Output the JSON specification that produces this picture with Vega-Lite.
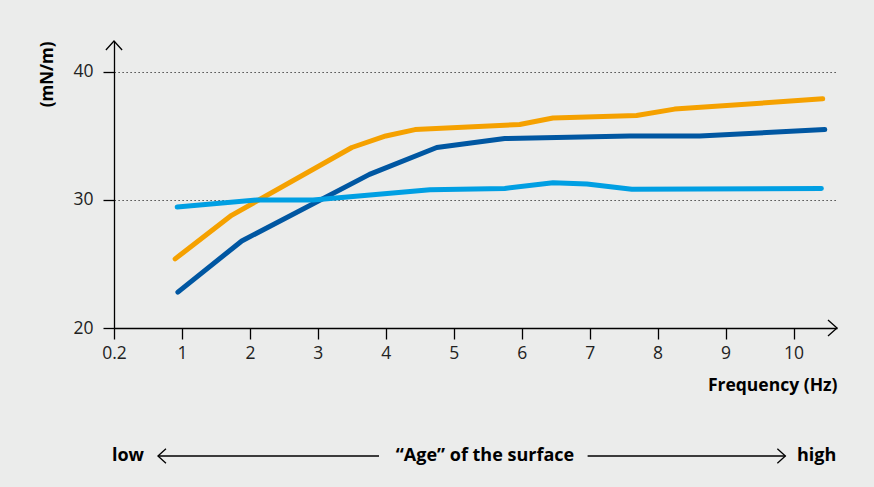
{
  "$schema": "https://vega.github.io/schema/vega-lite/v6.json",
  "autosize": "none",
  "width": 723,
  "height": 287,
  "padding": {"left": 114, "top": 41, "right": 37, "bottom": 159},
  "background": "#EBECEB",
  "config": {
    "view": {"stroke": null},
    "font": "Open Sans",
    "axis": {"labelFont": "Open Sans", "titleFont": "Open Sans"}
  },
  "datasets": {
    "series": [
      {"f": 0.9, "v": 25.4, "s": "A"},
      {"f": 1.73, "v": 28.8, "s": "A"},
      {"f": 3.5, "v": 34.1, "s": "A"},
      {"f": 4.0, "v": 35.0, "s": "A"},
      {"f": 4.43, "v": 35.5, "s": "A"},
      {"f": 5.97, "v": 35.9, "s": "A"},
      {"f": 6.46, "v": 36.4, "s": "A"},
      {"f": 7.69, "v": 36.6, "s": "A"},
      {"f": 8.25, "v": 37.1, "s": "A"},
      {"f": 10.43, "v": 37.9, "s": "A"},
      {"f": 0.94, "v": 22.8, "s": "B"},
      {"f": 1.88, "v": 26.8, "s": "B"},
      {"f": 3.76, "v": 32.0, "s": "B"},
      {"f": 4.75, "v": 34.1, "s": "B"},
      {"f": 5.75, "v": 34.8, "s": "B"},
      {"f": 7.59, "v": 35.0, "s": "B"},
      {"f": 8.62, "v": 35.0, "s": "B"},
      {"f": 10.46, "v": 35.5, "s": "B"},
      {"f": 0.93, "v": 29.45, "s": "C"},
      {"f": 2.1, "v": 30.0, "s": "C"},
      {"f": 2.93, "v": 30.0, "s": "C"},
      {"f": 4.65, "v": 30.8, "s": "C"},
      {"f": 5.75, "v": 30.9, "s": "C"},
      {"f": 6.46, "v": 31.35, "s": "C"},
      {"f": 6.96, "v": 31.25, "s": "C"},
      {"f": 7.62, "v": 30.84, "s": "C"},
      {"f": 10.41, "v": 30.9, "s": "C"}
    ],
    "arrowheads": [
      {"f": 0, "v": 42.42, "dir": "up"},
      {"f": 10.64, "v": 20, "dir": "right"},
      {"f": 0.647, "v": 10, "dir": "left"},
      {"f": 9.88, "v": 10, "dir": "right2"}
    ],
    "shafts": [
      {"f": 0.647, "f2": 3.9, "v": 10},
      {"f": 6.97, "f2": 9.88, "v": 10}
    ],
    "labels": [
      {"f": 0.206, "v": 10, "label": "low"},
      {"f": 5.46, "v": 10, "label": "“Age” of the surface"},
      {"f": 10.34, "v": 10, "label": "high"}
    ]
  },
  "encoding": {
    "x": {
      "field": "f", "type": "quantitative",
      "scale": {"domain": [0, 10.64], "nice": false, "zero": false},
      "axis": {
        "values": [0, 1, 2, 3, 4, 5, 6, 7, 8, 9, 10],
        "labelExpr": "datum.value == 0 ? '0.2' : datum.label",
        "labelFlush": false,
        "domainColor": "#000", "domainWidth": 1.3,
        "tickColor": "#000", "tickWidth": 1.3, "tickSize": 11,
        "labelFontSize": 17.5, "labelColor": "#222", "labelPadding": 5,
        "grid": false,
        "title": "Frequency (Hz)",
        "titleFontSize": 17.5, "titleFontWeight": "bold", "titleColor": "#000",
        "titleAnchor": "end", "titleAlign": "right", "titleBaseline": "middle",
        "titleX": 723, "titleY": 57
      }
    },
    "y": {
      "field": "v", "type": "quantitative",
      "scale": {"domain": [20, 42.42], "nice": false, "zero": false},
      "axis": {
        "values": [20, 30, 40],
        "labelFlush": false,
        "domainColor": "#000", "domainWidth": 1.3,
        "tickColor": "#000", "tickWidth": 1.3, "tickSize": 11,
        "labelFontSize": 17.5, "labelColor": "#222", "labelPadding": 10,
        "grid": true, "gridColor": "#222", "gridDash": [1.2, 2.8], "gridWidth": 1.2,
        "title": "(mN/m)",
        "titleFontSize": 17, "titleFontWeight": "bold", "titleColor": "#000",
        "titleAngle": 270, "titleAlign": "right", "titleBaseline": "middle",
        "titleX": -67, "titleY": 0
      }
    }
  },
  "layer": [
    {
      "data": {"name": "series"},
      "mark": {"type": "line", "strokeWidth": 5, "strokeCap": "round", "strokeJoin": "round"},
      "encoding": {
        "color": {
          "field": "s", "type": "nominal",
          "scale": {"domain": ["A", "B", "C"], "range": ["#F5A100", "#0057A2", "#009FE3"]},
          "legend": null
        }
      }
    },
    {
      "data": {"name": "shafts"},
      "mark": {"type": "rule", "color": "#000", "strokeWidth": 1.3},
      "encoding": {"x2": {"field": "f2"}}
    },
    {
      "data": {"name": "arrowheads"},
      "transform": [{"filter": "datum.dir == 'up'"}],
      "mark": {"type": "point", "shape": "M-0.9,1L0,0L0.9,1", "size": 324, "filled": false, "stroke": "#000", "strokeWidth": 1.3, "opacity": 1}
    },
    {
      "data": {"name": "arrowheads"},
      "transform": [{"filter": "datum.dir == 'right'"}],
      "mark": {"type": "point", "shape": "M-1,-0.9L0,0L-1,0.9", "size": 324, "filled": false, "stroke": "#000", "strokeWidth": 1.3, "opacity": 1}
    },
    {
      "data": {"name": "arrowheads"},
      "transform": [{"filter": "datum.dir == 'left'"}],
      "mark": {"type": "point", "shape": "M1,-0.9L0,0L1,0.9", "size": 256, "filled": false, "stroke": "#000", "strokeWidth": 1.3, "opacity": 1}
    },
    {
      "data": {"name": "arrowheads"},
      "transform": [{"filter": "datum.dir == 'right2'"}],
      "mark": {"type": "point", "shape": "M-1,-0.9L0,0L-1,0.9", "size": 256, "filled": false, "stroke": "#000", "strokeWidth": 1.3, "opacity": 1}
    },
    {
      "data": {"name": "labels"},
      "mark": {"type": "text", "fontSize": 18, "fontWeight": "bold", "color": "#000", "align": "center", "baseline": "middle"},
      "encoding": {"text": {"field": "label"}}
    }
  ]
}
